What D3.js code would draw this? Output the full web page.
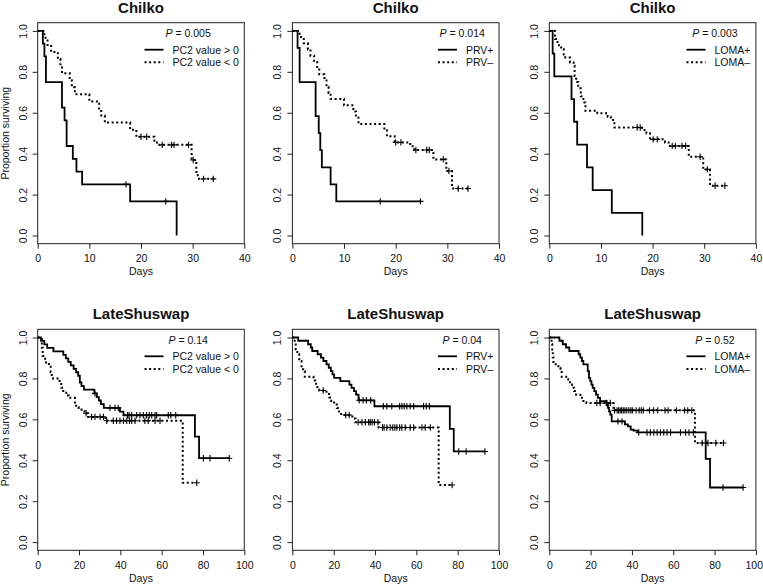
<!DOCTYPE html>
<html><head><meta charset="utf-8">
<script src="https://cdn.jsdelivr.net/npm/d3@7"></script>
<style>
body{margin:0;background:#fff}
text{font-family:"Liberation Sans",Arial,sans-serif;fill:#111}
</style>
</head><body>
<svg id="c" width="763" height="586"></svg>
<script>
// ---------- tick labels ----------
const yTicks = [0, 0.2, 0.4, 0.6, 0.8, 1.0];
const xTicksChilko = [0, 10, 20, 30, 40];
const xTicksShuswap = [0, 20, 40, 60, 80, 100];

// ---------- titles / legends ----------
const titles = ["Chilko", "Chilko", "Chilko", "LateShuswap", "LateShuswap", "LateShuswap"];
const pValues = ["0.005", "0.014", "0.003", "0.14", "0.04", "0.52"];
const legendSolid = ["PC2 value > 0", "PRV+", "LOMA+", "PC2 value > 0", "PRV+", "LOMA+"];
const legendDotted = ["PC2 value < 0", "PRV\u2013", "LOMA\u2013", "PC2 value < 0", "PRV\u2013", "LOMA\u2013"];

// ---------- Chilko, PC2 ----------
const chPc2PosT = [1.0, 1.3, 1.6, 4.7, 5.2, 5.6, 6.8, 7.5, 8.6, 17.9, 26.9];
const chPc2PosS = [0.9375, 0.875, 0.75, 0.625, 0.5625, 0.4375, 0.375, 0.3125, 0.25, 0.1667, 0];
const chPc2PosC = [17.1, 24.8];
const chPc2NegT = [1.3, 1.9, 2.6, 3.9, 4.4, 4.7, 6.2, 6.6, 7.2, 10.0, 11.9, 12.3, 13.0, 17.9, 19.1, 22.6, 23.1, 29.8, 30.7, 31.0];
const chPc2NegS = [0.966, 0.931, 0.897, 0.862, 0.828, 0.793, 0.759, 0.724, 0.690, 0.655, 0.621, 0.586, 0.552, 0.517, 0.483, 0.463, 0.443, 0.369, 0.31, 0.277];
const chPc2NegC = [20.0, 21.1, 24.1, 25.9, 26.4, 29.2, 30.1, 32.1, 34.0];

// ---------- Chilko, PRV ----------
const chPrvPosT = [1.0, 1.4, 4.5, 5.1, 5.4, 5.7, 7.4, 8.5];
const chPrvPosS = [0.917, 0.75, 0.583, 0.5, 0.417, 0.333, 0.25, 0.167];
const chPrvPosC = [17.0, 24.8];
const chPrvNegT = [1.4, 2.2, 3.0, 3.5, 4.2, 4.8, 5.2, 6.2, 6.6, 7.0, 7.4, 10.0, 11.8, 12.3, 12.8, 17.8, 18.3, 19.8, 22.8, 23.6, 27.3, 29.8, 30.9];
const chPrvNegS = [0.970, 0.939, 0.909, 0.879, 0.848, 0.818, 0.788, 0.758, 0.727, 0.697, 0.667, 0.636, 0.606, 0.576, 0.545, 0.515, 0.485, 0.455, 0.436, 0.418, 0.372, 0.315, 0.23];
const chPrvNegC = [20.0, 21.0, 23.9, 26.0, 26.5, 29.2, 30.3, 32.1, 34.0];

// ---------- Chilko, LOMA ----------
const chLomaPosT = [0.65, 0.97, 4.3, 4.8, 5.4, 7.3, 8.4, 12.1, 18.0];
const chLomaPosS = [0.889, 0.778, 0.667, 0.556, 0.444, 0.333, 0.222, 0.111, 0];
const chLomaPosC = [];
const chLomaNegT = [1.1, 1.6, 2.3, 2.8, 3.1, 4.0, 4.7, 4.9, 5.2, 5.6, 6.1, 6.6, 7.0, 9.3, 11.3, 11.9, 12.6, 17.9, 18.8, 19.5, 22.4, 23.1, 27.0, 29.8, 31.1];
const chLomaNegS = [0.96, 0.93, 0.91, 0.885, 0.87, 0.846, 0.83, 0.78, 0.75, 0.72, 0.68, 0.65, 0.61, 0.598, 0.58, 0.565, 0.528, 0.516, 0.50, 0.47, 0.455, 0.438, 0.385, 0.323, 0.243];
const chLomaNegC = [17.0, 17.6, 20.1, 20.9, 23.8, 24.4, 25.7, 26.4, 29.2, 30.6, 32.1, 34.0];

// ---------- LateShuswap, PC2 ----------
const lsPc2PosT = [1.6, 3.2, 4.6, 7.6, 12.4, 13.6, 14.8, 16.0, 17.4, 18.6, 19.6, 20.4, 21.2, 22.4, 27.4, 28.6, 29.6, 30.6, 32.0, 39.8, 41.5, 76.1, 78.1];
const lsPc2PosS = [0.983, 0.966, 0.949, 0.932, 0.915, 0.898, 0.881, 0.864, 0.847, 0.83, 0.813, 0.78, 0.762, 0.745, 0.727, 0.709, 0.692, 0.674, 0.656, 0.638, 0.62, 0.516, 0.41];
const lsPc2PosC = [27.7, 35.0, 37.4, 39.0, 43.5, 44.2, 45.5, 47.9, 49.5, 51.1, 52.7, 54.0, 55.2, 56.8, 57.6, 63.2, 64.4, 66.8, 80.2, 83.4, 92.7];
const lsPc2NegT = [2.0, 2.4, 3.6, 4.0, 6.3, 6.8, 10.6, 11.4, 12.4, 13.8, 15.0, 18.0, 18.6, 19.8, 21.2, 22.6, 24.4, 32.8, 70.2];
const lsPc2NegS = [0.95, 0.91, 0.885, 0.87, 0.83, 0.80, 0.78, 0.754, 0.738, 0.716, 0.705, 0.672, 0.66, 0.648, 0.64, 0.63, 0.612, 0.593, 0.29];
const lsPc2NegC = [23.4, 26.1, 27.7, 30.2, 31.8, 33.4, 36.6, 38.2, 39.8, 41.5, 43.1, 44.4, 45.5, 47.1, 51.9, 53.5, 56.8, 59.2, 77.0];

// ---------- LateShuswap, PRV ----------
const lsPrvPosT = [2.8, 7.6, 8.9, 9.6, 12.2, 13.8, 15.0, 16.5, 17.6, 18.6, 19.4, 20.2, 23.2, 27.6, 28.6, 29.8, 30.8, 32.0, 39.7, 76.2, 78.1];
const lsPrvPosS = [0.984, 0.967, 0.951, 0.934, 0.918, 0.902, 0.885, 0.869, 0.852, 0.836, 0.82, 0.803, 0.787, 0.77, 0.754, 0.738, 0.721, 0.693, 0.664, 0.553, 0.443];
const lsPrvPosC = [32.3, 34.2, 35.8, 37.9, 44.0, 45.7, 48.1, 51.9, 53.0, 54.1, 55.4, 57.0, 58.7, 63.5, 64.8, 66.3, 80.5, 84.1, 93.2];
const lsPrvNegT = [1.1, 1.6, 2.4, 3.3, 4.4, 5.2, 6.0, 10.2, 11.0, 12.0, 13.0, 16.5, 17.8, 18.8, 20.2, 21.5, 22.6, 23.6, 29.0, 30.5, 41.7, 70.8];
const lsPrvNegS = [0.976, 0.943, 0.918, 0.885, 0.86, 0.835, 0.808, 0.79, 0.774, 0.758, 0.741, 0.724, 0.707, 0.69, 0.672, 0.655, 0.638, 0.621, 0.604, 0.586, 0.56, 0.279];
const lsPrvNegC = [14.9, 25.8, 27.5, 31.8, 33.7, 35.3, 36.9, 37.7, 38.6, 39.7, 41.4, 43.6, 44.4, 45.7, 47.3, 48.6, 49.6, 50.6, 51.9, 53.0, 54.6, 57.0, 58.7, 62.7, 64.3, 66.8, 77.3];

// ---------- LateShuswap, LOMA ----------
const lsLomaPosT = [4.9, 6.5, 8.1, 9.7, 14.2, 15.0, 15.8, 16.5, 18.6, 19.2, 19.8, 20.4, 21.0, 21.8, 22.6, 23.5, 24.6, 27.8, 28.4, 28.9, 29.5, 30.2, 36.6, 38.0, 39.4, 40.8, 42.8, 75.7, 77.8];
const lsLomaPosS = [0.984, 0.967, 0.951, 0.934, 0.918, 0.902, 0.885, 0.869, 0.836, 0.803, 0.787, 0.770, 0.754, 0.738, 0.721, 0.705, 0.689, 0.672, 0.656, 0.639, 0.623, 0.59, 0.575, 0.566, 0.55, 0.545, 0.536, 0.407, 0.267];
const lsLomaPosC = [33.2, 35.2, 43.3, 47.3, 48.9, 50.6, 52.2, 53.8, 55.4, 57.0, 58.7, 63.5, 66.0, 67.6, 69.7, 84.1, 93.8];
const lsLomaNegT = [1.1, 1.4, 1.7, 2.0, 4.4, 5.4, 6.0, 9.2, 10.0, 11.0, 12.0, 13.0, 15.0, 16.5, 18.0, 31.1, 70.5];
const lsLomaNegS = [0.967, 0.934, 0.902, 0.869, 0.852, 0.836, 0.808, 0.795, 0.77, 0.754, 0.738, 0.72, 0.705, 0.69, 0.68, 0.644, 0.484];
const lsLomaNegC = [23.0, 24.6, 27.6, 29.5, 31.6, 32.8, 33.5, 34.3, 35.0, 35.8, 36.6, 37.5, 38.5, 39.5, 40.2, 42.0, 43.5, 44.5, 45.5, 48.5, 50.5, 52.5, 56.0, 57.5, 61.5, 65.5, 67.0, 69.0, 74.0, 76.8, 80.6, 84.3];

// ---------- assemble ----------
const curves = [
  [[chPc2PosT, chPc2PosS, chPc2PosC], [chPc2NegT, chPc2NegS, chPc2NegC]],
  [[chPrvPosT, chPrvPosS, chPrvPosC], [chPrvNegT, chPrvNegS, chPrvNegC]],
  [[chLomaPosT, chLomaPosS, chLomaPosC], [chLomaNegT, chLomaNegS, chLomaNegC]],
  [[lsPc2PosT, lsPc2PosS, lsPc2PosC], [lsPc2NegT, lsPc2NegS, lsPc2NegC]],
  [[lsPrvPosT, lsPrvPosS, lsPrvPosC], [lsPrvNegT, lsPrvNegS, lsPrvNegC]],
  [[lsLomaPosT, lsLomaPosS, lsLomaPosC], [lsLomaNegT, lsLomaNegS, lsLomaNegC]]
];

// ---------- layout ----------
const W = 763;
const colLeft = [37.7, 292.4, 549.3];
const boxW = 206.6;
const rowTop = [22.7, 329.3];
const boxH = 221;
const FS = 10.5;

const svg = d3.select("#c");
svg.append("rect").attr("width", 763).attr("height", 586).attr("fill", "#fff");

function survAt(T, S, t) {
  let v = 1;
  for (let i = 0; i < T.length; i++) { if (T[i] <= t) v = S[i]; }
  return v;
}

curves.forEach((pair, k) => {
  const row = Math.floor(k / 3), col = k % 3;
  const L = colLeft[col], R = L + boxW, Tp = rowTop[row], B = Tp + boxH;
  const xTicks = row === 0 ? xTicksChilko : xTicksShuswap;
  const x = d3.scaleLinear().domain([0, xTicks[xTicks.length - 1]]).range([L, R]);
  const y = d3.scaleLinear().domain([-0.04, 1.04]).range([B, Tp]);
  const g = svg.append("g");

  // axes
  const xa = g.append("g").attr("transform", `translate(0,${B})`)
    .call(d3.axisBottom(x).tickValues(xTicks).tickSize(5).tickPadding(3).tickFormat(d3.format("d")));
  const ya = g.append("g").attr("transform", `translate(${L},0)`)
    .call(d3.axisLeft(y).tickValues(yTicks).tickSize(5).tickFormat(d3.format(".1f")));
  [xa, ya].forEach(a => {
    a.select(".domain").remove();
    a.selectAll("line").attr("stroke", "#222").attr("stroke-width", 1);
    a.selectAll("text").attr("font-size", FS).attr("fill", "#111")
      .style("font-family", '"Liberation Sans",Arial,sans-serif');
  });
  xa.selectAll("text").attr("dy", null).attr("y", 18.7);
  // keep the last tick label inside the page
  xa.selectAll(".tick text").each(function (d) {
    const w = this.getComputedTextLength();
    const over = x(d) + w / 2 - (W - 0.5);
    if (over > 0) d3.select(this).attr("x", -over);
  });
  ya.selectAll(".tick text")
    .attr("dy", null).attr("x", 0).attr("y", 0)
    .attr("text-anchor", "middle")
    .attr("transform", `translate(-11.2,0) rotate(-90)`);

  // box
  g.append("rect").attr("x", L).attr("y", Tp).attr("width", boxW).attr("height", boxH)
    .attr("fill", "none").attr("stroke", "#222").attr("stroke-width", 1);

  // labels
  g.append("text").attr("x", (L + R) / 2).attr("y", B + 31.3).attr("text-anchor", "middle")
    .attr("font-size", FS).text("Days");
  if (col === 0) {
    g.append("text").attr("transform", `translate(${L - 28.6},${(Tp + B) / 2}) rotate(-90)`)
      .attr("text-anchor", "middle").attr("font-size", FS).text("Proportion surviving");
  }
  g.append("text").attr("x", (L + R) / 2).attr("y", Tp - 10).attr("text-anchor", "middle")
    .attr("font-size", 15).attr("font-weight", "bold").text(titles[k]);

  // curves
  const line = d3.line().x(d => x(d[0])).y(d => y(d[1]));
  pair.forEach((cv, j) => {
    const [T, S, C] = cv;
    const pts = [[0, 1]];
    let prev = 1;
    T.forEach((t, i) => { pts.push([t, prev]); pts.push([t, S[i]]); prev = S[i]; });
    const end = Math.max(T[T.length - 1], C.length ? C[C.length - 1] : 0);
    pts.push([end, prev]);
    g.append("path").attr("d", line(pts)).attr("fill", "none").attr("stroke", "#000")
      .attr("stroke-width", j === 0 ? 1.8 : 2)
      .attr("stroke-dasharray", j === 0 ? null : "2,2.6");
    C.forEach(c => {
      const cx = x(c), cy = y(survAt(T, S, c));
      g.append("path").attr("d", `M${cx - 3},${cy}H${cx + 3}M${cx},${cy - 3.2}V${cy + 3.2}`)
        .attr("stroke", "#000").attr("stroke-width", 1.1).attr("fill", "none");
    });
  });

  // legend
  const t1 = g.append("text").attr("font-size", FS).attr("y", Tp + 30.8).text(legendSolid[k]);
  const t2 = g.append("text").attr("font-size", FS).attr("y", Tp + 43.4).text(legendDotted[k]);
  const w = Math.max(t1.node().getComputedTextLength(), t2.node().getComputedTextLength());
  const ts = R - 5.5 - w;
  t1.attr("x", ts); t2.attr("x", ts);
  g.append("line").attr("x1", ts - 28).attr("x2", ts - 9).attr("y1", Tp + 27).attr("y2", Tp + 27)
    .attr("stroke", "#000").attr("stroke-width", 1.8);
  g.append("line").attr("x1", ts - 28).attr("x2", ts - 9).attr("y1", Tp + 39.6).attr("y2", Tp + 39.6)
    .attr("stroke", "#000").attr("stroke-width", 2).attr("stroke-dasharray", "2,2.6");
  const pt = g.append("text").attr("x", (ts - 28 + R - 5.5) / 2 - 3.5).attr("y", Tp + 14.2)
    .attr("text-anchor", "middle").attr("font-size", FS);
  pt.append("tspan").attr("font-style", "italic").text("P");
  pt.append("tspan").text(" = " + pValues[k]);
});
</script>
</body></html>
